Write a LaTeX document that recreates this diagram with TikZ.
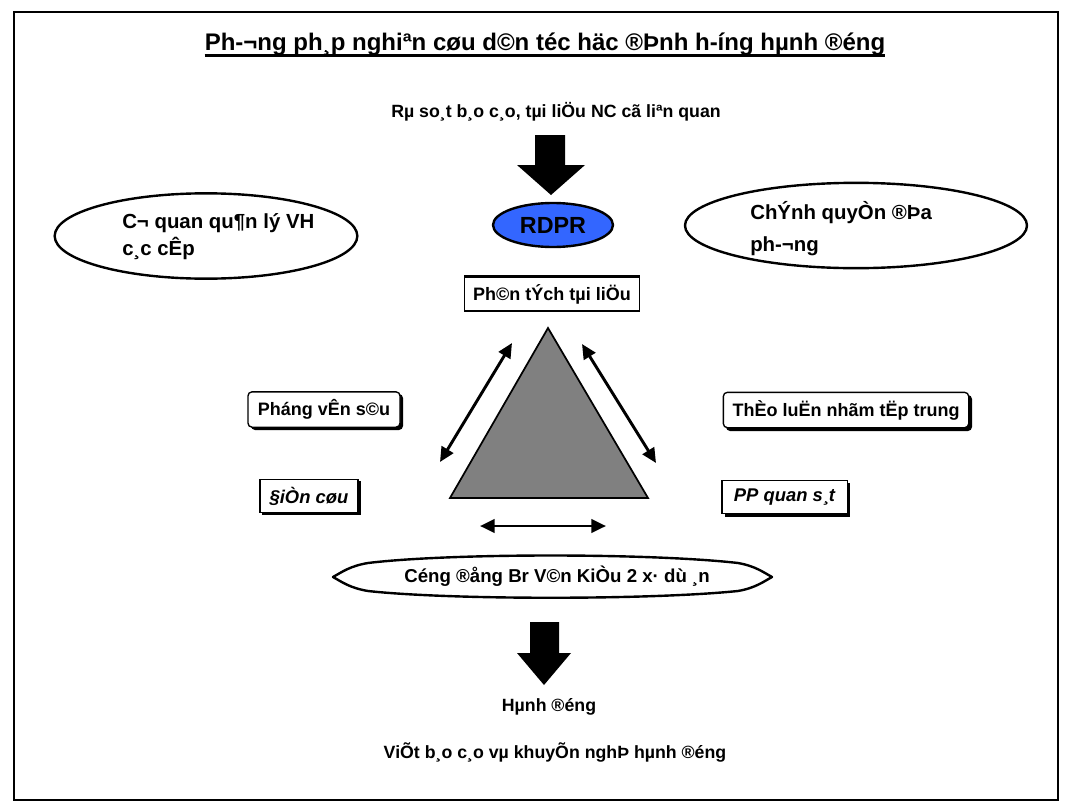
\documentclass[tikz,border=0pt]{standalone}
\usepackage{fontspec}
\setmainfont{Liberation Sans}
\usetikzlibrary{arrows.meta,shapes.geometric,calc}
\definecolor{rdprblue}{RGB}{51,102,255}
\definecolor{trigray}{RGB}{128,128,128}
\tikzset{
  txt/.style={font=\bfseries\fontsize{13.3}{15}\selectfont, inner sep=0pt},
  ovalbox/.style={draw, ellipse, line width=1.8pt, fill=white, inner sep=0pt},
  rectbox/.style={draw, line width=1pt, fill=white, inner sep=0pt, font=\bfseries\fontsize{13.5}{15}\selectfont},
  itbox/.style={rectbox, font=\bfseries\itshape\fontsize{13.8}{15}\selectfont},
  dblarrow/.style={{Triangle[length=11pt,width=10pt]}-{Triangle[length=11pt,width=10pt]}, line width=2.2pt},
  blockarrow/.style={fill=black, draw=none}
}
\begin{document}
\begin{tikzpicture}[x=0.75pt,y=-0.75pt]
\useasboundingbox (0,0) rectangle (1072,807);
\draw[line width=0.8pt] (14,12) rectangle (1058,800);

% title
\node[txt, font=\bfseries\fontsize{18}{20}\selectfont] (title) at (545,44) {Ph-¬ng ph¸p nghiªn cøu d©n téc häc ®Þnh h-íng hµnh ®éng};
\draw[line width=2.2pt] ($(title.base west)+(0,5)$) -- ($(title.base east)+(0,5)$);

\node[txt] (review) at (556,112) {Rµ so¸t b¸o c¸o, tµi liÖu NC cã liªn quan};

% block arrow 1
\path[blockarrow] (535,135) -- (565,135) -- (565,165) -- (585,165) -- (551,195) -- (517,165) -- (535,165) -- cycle;

% ellipses
\node[ovalbox, minimum width=227pt, minimum height=64pt] (leftoval) at (206,236) {};
\node[txt, font=\bfseries\fontsize{15.3}{20.25}\selectfont, align=left, anchor=west] (lefttext) at (122,237) {C¬ quan qu¶n lý VH\\c¸c cÊp};
\node[ovalbox, minimum width=256.5pt, minimum height=64pt] (rightoval) at (856,225.5) {};
\node[txt, font=\bfseries\fontsize{15.3}{24}\selectfont, align=left, anchor=west] (righttext) at (750,229) {ChÝnh quyÒn ®Þa\\ph-¬ng};
\node[ovalbox, fill=rdprblue, minimum width=90pt, minimum height=33pt, font=\bfseries\fontsize{17.5}{19}\selectfont] (rdpr) at (553,225) {RDPR};

% boxes
\node[rectbox, minimum width=131pt, minimum height=25.5pt] (docbox) at (552,294) {Ph©n tÝch tµi liÖu};
\draw[line width=2pt] (docbox.north west) -- (docbox.north east);

\fill[black, rounded corners=3pt] (251,394) rectangle (403,430);
\node[rectbox, rounded corners=3pt, minimum width=114pt, minimum height=26.5pt] (interview) at (324,409.5) {Pháng vÊn s©u};

\fill[black] (262,481) rectangle (361,515);
\node[itbox, minimum width=73.5pt, minimum height=25pt] (fieldwork) at (309,496) {§iÒn cøu};

\fill[black, rounded corners=3pt] (726,395) rectangle (972,431);
\node[rectbox, rounded corners=3pt, minimum width=184pt, minimum height=26.5pt] (focus) at (846,410) {ThÈo luËn nhãm tËp trung};

\fill[black] (725,483) rectangle (850,517);
\node[itbox, minimum width=94pt, minimum height=25pt] (observe) at (784.5,497) {PP quan s¸t};

% triangle
\coordinate (apex) at (548,328);
\coordinate (bl) at (450,498);
\coordinate (br) at (648,498);
\draw[fill=trigray, line width=1.3pt, line join=miter] (apex) -- (bl) -- (br) -- cycle;

% double arrows
\coordinate (la1) at (440,462); \coordinate (la2) at (512,343);
\coordinate (ra1) at (582,344); \coordinate (ra2) at (656,463);
\coordinate (ba1) at (480,526); \coordinate (ba2) at (606,526);
\draw[dblarrow] (la1) -- (la2);
\draw[dblarrow] (ra1) -- (ra2);
\draw[dblarrow] (ba1) -- (ba2);

% community lens
\draw[line width=1.8pt, fill=white, line join=round]
  (333,577) .. controls (342,572) and (350,566) .. (368,563)
  .. controls (450,553) and (650,553) .. (738,563)
  .. controls (755,566) and (763,572) .. (772,577)
  .. controls (763,582) and (755,588) .. (738,591)
  .. controls (650,600) and (450,600) .. (368,591)
  .. controls (350,588) and (342,582) .. (333,577) -- cycle;
\node[txt, font=\bfseries\fontsize{14}{16}\selectfont] (community) at (557,576) {Céng ®ång Br V©n KiÒu 2 x· dù ¸n};

% block arrow 2
\path[blockarrow] (530,622) -- (559,622) -- (559,653) -- (571,653) -- (544,685) -- (517,653) -- (530,653) -- cycle;

\node[txt] (action) at (549,707) {Hµnh ®éng};
\node[txt] (report) at (555,752) {ViÕt b¸o c¸o vµ khuyÕn nghÞ hµnh ®éng};
\end{tikzpicture}
\end{document}
